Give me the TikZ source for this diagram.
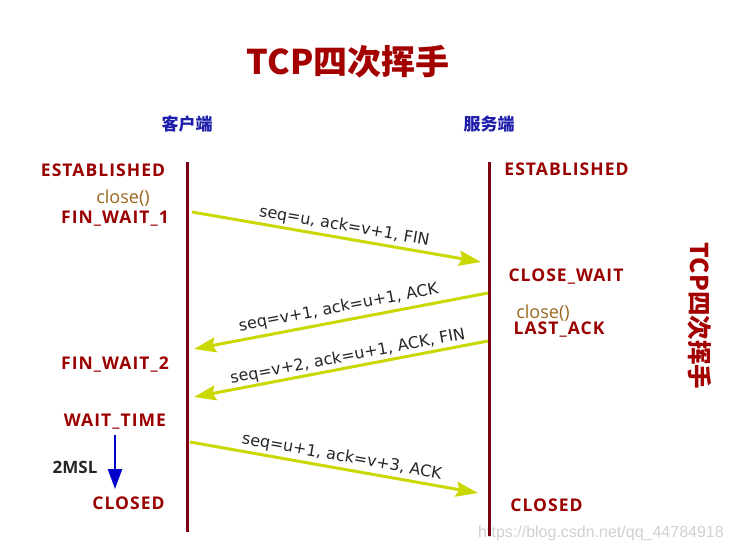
\documentclass[tikz,border=0pt]{standalone}
\usepackage{fontspec}
\usetikzlibrary{arrows.meta}
\setmainfont{Open Sans}
\newfontfamily\cjk{Noto Sans CJK SC}
\newfontfamily\lblfont{DejaVu Sans}
\newfontfamily\wmfont{Liberation Sans}
\newfontfamily\stfont[LetterSpace=6]{Open Sans}
\definecolor{dred}{HTML}{9A0000}
\definecolor{tred}{HTML}{A30000}
\definecolor{linered}{HTML}{7A0012}
\definecolor{cblue}{HTML}{1E1EAA}
\definecolor{mybrown}{HTML}{9A6620}
\definecolor{msggreen}{HTML}{C8D800}
\definecolor{arrblue}{HTML}{0000C8}
\begin{document}
\begin{tikzpicture}[x=1pt,y=-1pt,
  stlabel/.style={font=\stfont\bfseries\fontsize{17.5}{20}\selectfont, text=dred, inner sep=0pt},
  closelabel/.style={font=\fontsize{18}{20}\selectfont, text=mybrown, inner sep=0pt},
  side/.style={font=\cjk\bfseries\fontsize{17}{20}\selectfont, text=cblue, inner sep=0pt},
  title/.style={font=\cjk\bfseries\fontsize{34}{40}\selectfont, text=tred, inner sep=0pt},
  lifeline/.style={draw=linered, line width=3pt},
  msg/.style={draw=msggreen, line width=3pt, -{Stealth[length=22pt,width=15pt,inset=3pt]}},
  msglabel/.style={font=\lblfont\fontsize{16}{18}\selectfont, text=black!85, inner sep=2.5pt, sloped, above, midway}
]
\useasboundingbox (0,0) rectangle (733,552);
\fill[white] (0,0) rectangle (733,552);

% watermark url
\node[font=\wmfont\fontsize{16}{18}\selectfont, text=black!18, inner sep=0pt] (url) at (601,533) {https://blog.csdn.net/qq\_44784918};

% titles
\node[title] (ttl) at (348,62) {TCP四次挥手};
\node[title, font=\cjk\bfseries\fontsize{24.5}{28}\selectfont, rotate=-90] (vttl) at (700,316) {TCP四次挥手};
\node[side] (client) at (187,124) {客户端};
\node[side] (server) at (489,124) {服务端};

% lifelines
\coordinate (ctop) at (187,162);
\coordinate (cbot) at (187,532);
\coordinate (stop) at (489,162);
\coordinate (sbot) at (489,536);
\draw[lifeline] (ctop) -- (cbot);
\draw[lifeline] (stop) -- (sbot);

% client states
\node[stlabel] (est1) at (103,170) {ESTABLISHED};
\node[closelabel] (close1) at (123,198) {close()};
\node[stlabel] (fw1) at (115,219) {FIN\_WAIT\_1};
\node[stlabel] (fw2) at (115,365) {FIN\_WAIT\_2};
\node[stlabel] (wt) at (115,422) {WAIT\_TIME};
\node[stlabel] (closed1) at (128.5,503) {CLOSED};
\node[font=\bfseries\fontsize{17}{19}\selectfont, text=black!85, inner sep=0pt] (msl) at (75,467) {2MSL};

% server states
\node[stlabel] (est2) at (566.5,169) {ESTABLISHED};
\node[stlabel] (cw) at (566,277) {CLOSE\_WAIT};
\node[closelabel] (close2) at (543,313) {close()};
\node[stlabel] (la) at (559,330) {LAST\_ACK};
\node[stlabel] (closed2) at (546.5,505) {CLOSED};

% 2MSL arrow
\coordinate (t1) at (115,435);
\coordinate (t2) at (115,489);
\draw[draw=arrblue, line width=2.5pt, -{Triangle[length=20pt,width=14pt]}] (t1) -- (t2);

% messages
\coordinate (a1) at (192,212);
\coordinate (b1) at (481,262);
\coordinate (a2) at (488,293);
\coordinate (b2) at (194,349);
\coordinate (a3) at (488,341);
\coordinate (b3) at (194,397);
\coordinate (a4) at (190,442);
\coordinate (b4) at (478,493);
\draw[msg] (a1) -- node[msglabel, pos=0.52] {seq=u, ack=v+1, FIN} (b1);
\draw[msg] (a2) -- node[msglabel, pos=0.5, inner sep=4pt] {seq=v+1, ack=u+1, ACK} (b2);
\draw[msg] (a3) -- node[msglabel, pos=0.47, inner sep=1.5pt] {seq=v+2, ack=u+1, ACK, FIN} (b3);
\draw[msg] (a4) -- node[msglabel, pos=0.52] {seq=u+1, ack=v+3, ACK} (b4);
\end{tikzpicture}
\end{document}
